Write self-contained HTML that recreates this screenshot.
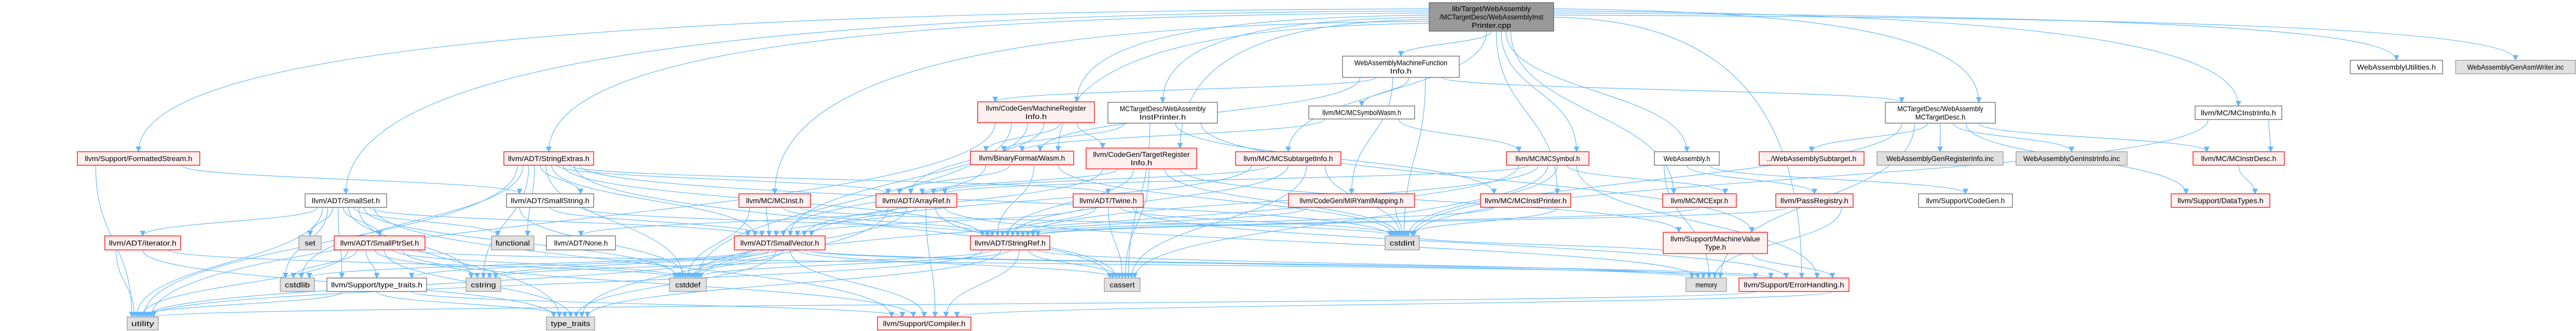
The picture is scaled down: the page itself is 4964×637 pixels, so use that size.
<!DOCTYPE html>
<html><head><meta charset="utf-8"><style>
html,body{margin:0;padding:0;background:#fff;}
svg{display:block;}
text{font-family:"Liberation Sans",sans-serif;font-size:14px;fill:#000;}
</style></head><body>
<svg id="g" xmlns="http://www.w3.org/2000/svg" width="4964" height="637" viewBox="0 0 4964 637">
<defs><marker id="a" viewBox="0 0 10 10" refX="9" refY="5" markerWidth="11" markerHeight="11" markerUnits="userSpaceOnUse" orient="auto"><path d="M0,0 L10,5 L0,10 z" fill="#63b8ff"/></marker></defs>
<g id="edges" fill="none" stroke="#63b8ff" stroke-width="1.2"></g>
<g id="nodes"></g>
</svg>
<script>
var N={
M:[2754,5,240,55,'m',['lib/Target/WebAssembly','/MCTargetDesc/WebAssemblyInst','Printer.cpp']],
FS:[149,292,236,26,'r',['llvm/Support/FormattedStream.h']],
SS:[588,373,157,26,'w',['llvm/ADT/SmallSet.h']],
IT:[202,454,146,27,'r',['llvm/ADT/iterator.h']],
SET:[576,454,43,27,'g',['set']],
SPS:[644,454,175,27,'r',['llvm/ADT/SmallPtrSet.h']],
CSTDLIB:[540,535,66,26,'g',['cstdlib']],
TT:[630,535,192,26,'w',['llvm/Support/type_traits.h']],
CSTRING:[898,535,67,26,'g',['cstring']],
UTIL:[245,610,60,25,'g',['utility']],
FUNC:[947,454,82,27,'g',['functional']],
SE:[971,292,173,26,'r',['llvm/ADT/StringExtras.h']],
SSTR:[976,373,168,26,'w',['llvm/ADT/SmallString.h']],
NONE:[1053,454,133,27,'w',['llvm/ADT/None.h']],
MCINST:[1424,373,138,26,'r',['llvm/MC/MCInst.h']],
AR:[1688,373,156,26,'r',['llvm/ADT/ArrayRef.h']],
SV:[1415,454,175,27,'r',['llvm/ADT/SmallVector.h']],
SR:[1870,454,153,27,'r',['llvm/ADT/StringRef.h']],
CSTDDEF:[1290,535,71,26,'g',['cstddef']],
TTR:[1053,610,93,25,'g',['type_traits']],
COMP:[1691,610,180,25,'r',['llvm/Support/Compiler.h']],
MRI:[1884,196,225,40,'r',['llvm/CodeGen/MachineRegister','Info.h']],
WASM:[1870,291,199,26,'r',['llvm/BinaryFormat/Wasm.h']],
MFI:[2587,108,225,41,'w',['WebAssemblyMachineFunction','Info.h']],
IP:[2135,197,211,40,'w',['MCTargetDesc/WebAssembly','InstPrinter.h']],
SYMW:[2522,204,204,25,'w',['llvm/MC/MCSymbolWasm.h']],
TRI:[2093,285,213,40,'r',['llvm/CodeGen/TargetRegister','Info.h']],
STI:[2381,292,203,26,'r',['llvm/MC/MCSubtargetInfo.h']],
SYM:[2903,292,159,26,'r',['llvm/MC/MCSymbol.h']],
TW:[2068,373,135,26,'r',['llvm/ADT/Twine.h']],
MIR:[2483,373,243,26,'r',['llvm/CodeGen/MIRYamlMapping.h']],
MCIP:[2853,373,174,26,'r',['llvm/MC/MCInstPrinter.h']],
CSTDINT:[2669,454,66,27,'g',['cstdint']],
CASSERT:[2128,535,69,26,'g',['cassert']],
TD:[3633,197,212,40,'w',['MCTargetDesc/WebAssembly','MCTargetDesc.h']],
WA:[3188,292,125,26,'w',['WebAssembly.h']],
SUB:[3390,292,202,26,'r',['../WebAssemblySubtarget.h']],
GRI:[3617,292,243,26,'g',['WebAssemblyGenRegisterInfo.inc']],
GII:[3885,292,214,26,'g',['WebAssemblyGenInstrInfo.inc']],
EXPR:[3204,373,142,26,'r',['llvm/MC/MCExpr.h']],
PR:[3422,373,149,26,'r',['llvm/PassRegistry.h']],
CG:[3697,373,181,26,'w',['llvm/Support/CodeGen.h']],
MVT:[3205,447,201,41,'r',['llvm/Support/MachineValue','Type.h']],
MEM:[3249,535,78,26,'g',['memory']],
EH:[3351,535,212,26,'r',['llvm/Support/ErrorHandling.h']],
UTILS:[4529,116,178,26,'w',['WebAssemblyUtilities.h']],
ASM:[4732,116,231,26,'g',['WebAssemblyGenAsmWriter.inc']],
II:[4230,204,167,26,'w',['llvm/MC/MCInstrInfo.h']],
ID:[4226,292,176,26,'r',['llvm/MC/MCInstrDesc.h']],
DT:[4184,373,190,26,'r',['llvm/Support/DataTypes.h']]
};
var E={
M:'FS SS SE MRI IP MFI TRI STI SYM WA TD II UTILS ASM MCINST EH EXPR MCIP WASM',
FS:'UTIL SSTR',
SS:'IT SET SPS FUNC CSTDLIB TT UTIL CSTRING SV COMP TTR CSTDDEF',
IT:'UTIL CSTDDEF TTR',
SPS:'UTIL CSTDLIB TT CSTRING COMP CSTDDEF TTR EH',
TT:'UTIL TTR COMP',
SE:'SSTR AR SR SV TW UTIL CSTDINT CSTDDEF CASSERT CSTDLIB CSTRING FUNC',
SSTR:'SV SR CSTDDEF',
MCINST:'SV SR CSTDDEF CSTDINT',
AR:'SV COMP CSTDDEF TTR NONE CASSERT MEM',
SV:'COMP CSTDDEF TTR UTIL CSTDLIB CSTRING CASSERT MEM EH TT',
SR:'COMP CSTDDEF TTR UTIL CSTRING CASSERT MEM',
MRI:'AR TRI SV UTIL CSTDDEF WASM',
WASM:'AR SR SV CSTDINT',
MFI:'MRI WASM SYMW MIR TD CSTDINT',
IP:'WASM MCIP MVT CASSERT',
SYMW:'WASM SYM',
TRI:'AR SV CASSERT CSTDINT MVT SR',
STI:'AR SR CSTDINT CASSERT SV',
SYM:'AR SR EXPR EH CSTDDEF CSTDINT CASSERT',
TW:'SR SV CASSERT CSTDINT EH',
MIR:'SR CSTDINT',
MCIP:'CSTDINT SR',
TD:'SUB GRI GII MEM CSTDINT ID DT',
WA:'PR CG MEM',
PR:'SR MEM',
EXPR:'SR',
MVT:'EH CSTDINT',
EH:'COMP UTIL',
II:'ID CSTDINT',
ID:'DT'
};
var ns='http://www.w3.org/2000/svg';
var eg=document.getElementById('edges'),ng=document.getElementById('nodes');
var inc={},out={},list=[];
for(var s in E){E[s].split(' ').forEach(function(t){list.push([s,t]);(inc[t]=inc[t]||[]).push(s);(out[s]=out[s]||[]).push(t);});}
function cx(k){return N[k][0]+N[k][2]/2;}
var li=0,ri=0;
list.forEach(function(e){
 var s=e[0],t=e[1],S=N[s],T=N[t];
 var os=out[s].slice().sort(function(a,b){return cx(a)-cx(b);});
 var it=inc[t].slice().sort(function(a,b){return cx(a)-cx(b);});
 var i=os.indexOf(t),j=it.indexOf(s);
 var x1=S[0]+S[2]*(0.15+0.7*(os.length>1?i/(os.length-1):0.5));
 var y1=S[1]+S[3];
 var x2=T[0]+T[2]*(0.15+0.7*(it.length>1?j/(it.length-1):0.5));
 var y2=T[1];
 var dy=y2-y1,d;
 if(s==='M' && Math.abs(x2-cx('M'))>400){
  var left=x2<cx('M');
  var yy=S[1]+12+(left?(li++):(ri++))*4;
  x1=left?S[0]:S[0]+S[2];
  d='M'+x1+','+yy+' C'+(x2+(x1-x2)*0.35)+','+(yy+5)+' '+x2+','+(yy+(y2-yy)*0.3)+' '+x2+','+y2;
 } else {
  d='M'+x1+','+y1+' C'+x1+','+(y1+dy*0.5)+' '+x2+','+(y2-dy*0.5)+' '+x2+','+y2;
 }
 var p=document.createElementNS(ns,'path');
 p.setAttribute('d',d);
 p.setAttribute('marker-end','url(#a)');
 eg.appendChild(p);
});
var st={m:['#999999','#666666'],r:['#fff0f0','#ff0000'],w:['#ffffff','#666666'],g:['#e0e0e0','#999999']};
for(var k in N){
 var n=N[k],r=document.createElementNS(ns,'rect');
 r.setAttribute('x',n[0]);r.setAttribute('y',n[1]);r.setAttribute('width',n[2]);r.setAttribute('height',n[3]);
 r.setAttribute('fill',st[n[4]][0]);r.setAttribute('stroke',st[n[4]][1]);r.setAttribute('stroke-width','1.3');
 ng.appendChild(r);
 var L=n[5],lh=16,y0=n[1]+n[3]/2-(L.length-1)*lh/2+5;
 L.forEach(function(line,ii){
  var t=document.createElementNS(ns,'text');
  t.setAttribute('x',n[0]+n[2]/2);t.setAttribute('y',y0+ii*lh);t.setAttribute('text-anchor','middle');
  var w=Math.min(n[2]-16,line.length*6.9);
  t.setAttribute('textLength',w);t.setAttribute('lengthAdjust','spacingAndGlyphs');
  t.textContent=line;ng.appendChild(t);
 });
}
</script>
</body></html>
